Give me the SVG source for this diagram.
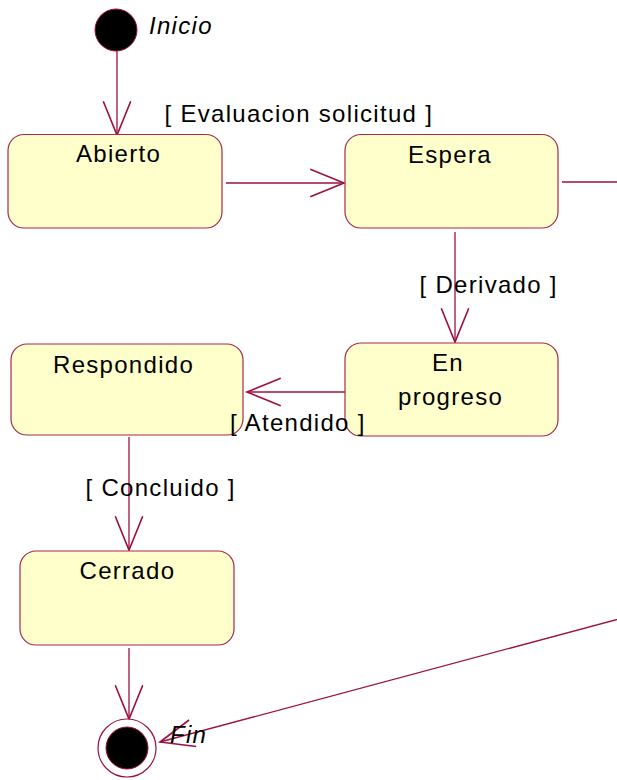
<svg xmlns="http://www.w3.org/2000/svg" width="617" height="780" viewBox="0 0 617 780">
<style>
.st{fill:#FFFFCC;stroke:#A8284E;stroke-width:1.2}
.t{font-family:"Liberation Sans",Arial,sans-serif;font-size:24px;letter-spacing:1.3px;fill:#000}
.i{font-style:italic}
.c{fill:none;stroke:#9E1040;stroke-width:1.3}
</style>
<defs>
<marker id="open" markerUnits="userSpaceOnUse" markerWidth="40" markerHeight="40" viewBox="-30 -15 32 30" refX="0" refY="0" orient="auto" overflow="visible">
<path d="M-27,-11 L0,0 L-27,11" fill="none" stroke="#9E1040" stroke-width="1.3"/>
</marker>
</defs>
<rect width="617" height="780" fill="#fff"/>
<g id="connectors">
<path id="e-start-abierto" class="c" d="M117,51 V135" marker-end="url(#open)"/>
<path id="e-abierto-espera" class="c" d="M226,183 H344" marker-end="url(#open)"/>
<path id="e-espera-enprogreso" class="c" d="M455,232 V342" marker-end="url(#open)"/>
<path id="e-enprogreso-respondido" class="c" d="M345,392 H247" marker-end="url(#open)"/>
<path id="e-respondido-cerrado" class="c" d="M129,437 V550" marker-end="url(#open)"/>
<path id="e-cerrado-fin" class="c" d="M129,648 V719" marker-end="url(#open)"/>
<path id="e-espera-fin" class="c" d="M562,182 H660 V608 L160,742" marker-end="url(#open)"/>
</g>
<g id="inicio">
<circle cx="116" cy="30" r="21" fill="#000" stroke="#9E1040" stroke-width="1"/>
<text class="t i" x="149" y="34">Inicio</text>
</g>
<g id="abierto">
<rect class="st" x="8" y="134.5" width="214" height="93.5" rx="16"/>
<text class="t" x="76" y="162">Abierto</text>
</g>
<g id="espera">
<rect class="st" x="345" y="134.5" width="213" height="93.5" rx="16"/>
<text class="t" x="408" y="162.5">Espera</text>
</g>
<g id="enprogreso">
<rect class="st" x="345" y="343" width="213" height="93" rx="16"/>
<text class="t" x="432" y="370.5">En</text>
<text class="t" x="398" y="404.5">progreso</text>
</g>
<g id="respondido">
<rect class="st" x="11" y="344" width="232" height="91" rx="16"/>
<text class="t" x="53" y="373">Respondido</text>
</g>
<g id="cerrado">
<rect class="st" x="20" y="551" width="214" height="94" rx="16"/>
<text class="t" x="79.5" y="579">Cerrado</text>
</g>
<g id="fin">
<circle cx="127" cy="748" r="29" fill="#fff" stroke="#9E1040" stroke-width="1.2"/>
<circle cx="127" cy="748" r="21" fill="#000" stroke="#9E1040" stroke-width="1"/>
<text class="t i" x="170" y="743">Fin</text>
</g>
<g id="labels">
<text class="t" x="164.5" y="122">[ Evaluacion solicitud ]</text>
<text class="t" x="419.5" y="293">[ Derivado ]</text>
<text class="t" x="230" y="431">[ Atendido ]</text>
<text class="t" x="85.5" y="496">[ Concluido ]</text>
</g>
</svg>
